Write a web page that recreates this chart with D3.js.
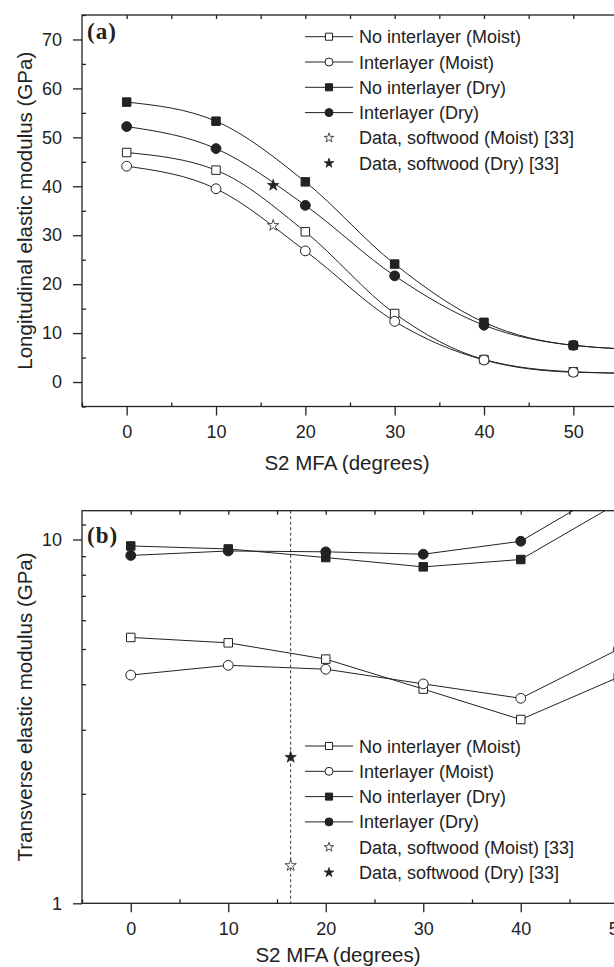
<!DOCTYPE html>
<html>
<head>
<meta charset="utf-8">
<script src="https://cdn.jsdelivr.net/npm/d3@7"></script>
<style>
  body { margin: 0; background: #fff; }
  svg { display: block; }
  text { font-family: "Liberation Sans", Arial, Helvetica, sans-serif; fill: #222; }
</style>
</head>
<body>
<div id="chart"></div>
<script>
// data
const mfaA = [0, 10, 20, 30, 40, 50, 60];
const longNoInterMoist = [46.9, 43.3, 30.7, 14.0, 4.6, 2.1, 1.7];
const longInterMoist   = [44.1, 39.5, 26.8, 12.4, 4.5, 2.0, 1.7];
const longNoInterDry   = [57.2, 53.3, 40.9, 24.1, 12.2, 7.5, 6.5];
const longInterDry     = [52.2, 47.7, 36.1, 21.7, 11.6, 7.5, 6.5];
const softwoodLong = [{mfa: 16.4, e: 32.0, kind: "moist"}, {mfa: 16.4, e: 40.2, kind: "dry"}];

const mfaB = [0, 10, 20, 30, 40, 50];
const transNoInterMoist = [5.38, 5.20, 4.69, 3.88, 3.20, 4.18];
const transInterMoist   = [4.24, 4.51, 4.40, 4.01, 3.66, 4.99];
const transNoInterDry   = [9.60, 9.42, 8.92, 8.41, 8.81, 12.6];
const transInterDry     = [9.04, 9.30, 9.25, 9.11, 9.89, 14.2];
const softwoodTrans = [{mfa: 16.4, e: 1.27, kind: "moist"}, {mfa: 16.4, e: 2.52, kind: "dry"}];
const softwoodMFA = 16.4;

const legendLabels = ["No interlayer (Moist)", "Interlayer (Moist)", "No interlayer (Dry)",
  "Interlayer (Dry)", "Data, softwood (Moist) [33]", "Data, softwood (Dry) [33]"];

const xTicks = [0, 10, 20, 30, 40, 50];
const yTicksA = [0, 10, 20, 30, 40, 50, 60, 70];
const yTicksB = [1, 10];

const ink = "#222";
const width = 614, height = 967;
const titleSize = "20.5px";

const svg = d3.select("#chart").append("svg")
  .attr("width", width)
  .attr("height", height);

const seriesStyle = [
  {shape: d3.symbolSquare, fill: "#fff"},
  {shape: d3.symbolCircle, fill: "#fff"},
  {shape: d3.symbolSquare, fill: ink},
  {shape: d3.symbolCircle, fill: ink}
];
function symSize(shape) { return shape === d3.symbolSquare ? 72 : 76; }

// scales
const xA = d3.scaleLinear().domain([-5, 55]).range([82, 618]);
const yA = d3.scaleLinear().domain([-5, 75]).range([406.5, 15]);
const xB = d3.scaleLinear().domain([-5, 55]).range([82, 667]);
const yB = d3.scaleLog().domain([1, 12]).range([903.3, 510.7]);

function styleAxis(g) {
  g.select(".domain").remove();
  g.selectAll(".tick line").attr("stroke", ink).attr("stroke-width", 1.3);
  g.selectAll(".tick text").style("font-size", "18px").attr("fill", ink)
    .style("font-family", "'Liberation Sans', Arial, sans-serif");
}

function drawPanel(opt) {
  const {x, yTop, yBot, tag, tagY, clipId} = opt;
  const g = svg.append("g");

  g.append("defs").append("clipPath").attr("id", clipId)
    .append("rect")
    .attr("x", x.range()[0]).attr("y", yTop)
    .attr("width", x.range()[1] - x.range()[0])
    .attr("height", yBot - yTop);

  // x axis
  g.append("g").attr("transform", "translate(0," + yBot + ")")
    .call(d3.axisBottom(x).tickValues(xTicks).tickSize(9).tickPadding(9.7).tickFormat(d3.format("d")))
    .call(styleAxis);
  g.append("g").attr("transform", "translate(0," + yBot + ")")
    .call(d3.axisBottom(x).tickValues(d3.range(-5, 56, 5).filter(d => d % 10 !== 0)).tickSize(-4).tickFormat(""))
    .call(styleAxis);
  g.append("g").attr("transform", "translate(0," + yTop + ")")
    .call(d3.axisTop(x).tickValues(d3.range(0, 56, 5)).tickSize(-4).tickFormat(""))
    .call(styleAxis);

  // frame
  g.append("rect")
    .attr("x", x.range()[0]).attr("y", yTop)
    .attr("width", x.range()[1] - x.range()[0])
    .attr("height", yBot - yTop)
    .attr("fill", "none").attr("stroke", ink).attr("stroke-width", 1.3);

  // panel tag
  g.append("text")
    .attr("x", 87).attr("y", tagY)
    .style("font-family", "'Liberation Serif', 'Times New Roman', serif")
    .style("font-weight", "bold").style("font-size", "23px")
    .style("letter-spacing", "1px")
    .attr("fill", "#111")
    .text(tag);

  return g;
}

function drawLegend(g, x0, y0) {
  const rowH = 25.3;
  legendLabels.forEach((lab, i) => {
    const cy = y0 + i * rowH;
    if (i < 4) {
      g.append("line").attr("x1", x0).attr("x2", x0 + 48).attr("y1", cy).attr("y2", cy)
        .attr("stroke", ink).attr("stroke-width", 1);
      const st = seriesStyle[i];
      g.append("path")
        .attr("transform", "translate(" + (x0 + 24) + "," + cy + ")")
        .attr("d", d3.symbol().type(st.shape).size(50)())
        .attr("fill", st.fill).attr("stroke", ink).attr("stroke-width", 1);
    } else {
      g.append("path")
        .attr("transform", "translate(" + (x0 + 24) + "," + cy + ")")
        .attr("d", d3.symbol().type(d3.symbolStar).size(28)())
        .attr("fill", i === 4 ? "#fff" : ink).attr("stroke", ink).attr("stroke-width", 0.8);
    }
    g.append("text")
      .attr("x", x0 + 54).attr("y", cy + 6.5)
      .style("font-size", "18px")
      .text(lab);
  });
}

// ---------- panel (a) ----------
const pa = drawPanel({x: xA, yTop: 15, yBot: 406.5, tag: "(a)", tagY: 39, clipId: "clipA"});

pa.append("g").attr("transform", "translate(82,0)")
  .call(d3.axisLeft(yA).tickValues(yTicksA).tickSize(9).tickPadding(11))
  .call(styleAxis);
pa.append("g").attr("transform", "translate(82,0)")
  .call(d3.axisLeft(yA).tickValues(d3.range(-5, 76, 10)).tickSize(-4).tickFormat(""))
  .call(styleAxis);

const seriesA = [longNoInterMoist, longInterMoist, longNoInterDry, longInterDry];
const lineA = d3.line().x((d, i) => xA(mfaA[i])).y(d => yA(d)).curve(d3.curveMonotoneX);
const plotA = pa.append("g").attr("clip-path", "url(#clipA)");

seriesA.forEach(s => {
  plotA.append("path").datum(s)
    .attr("d", lineA)
    .attr("fill", "none").attr("stroke", ink).attr("stroke-width", 1);
});
seriesA.forEach((s, k) => {
  const st = seriesStyle[k];
  plotA.selectAll(null).data(s).enter().append("path")
    .attr("transform", (d, i) => "translate(" + xA(mfaA[i]) + "," + yA(d) + ")")
    .attr("d", d3.symbol().type(st.shape).size(symSize(st.shape))())
    .attr("fill", st.fill).attr("stroke", ink).attr("stroke-width", 1);
});
plotA.selectAll(null).data(softwoodLong).enter().append("path")
  .attr("transform", d => "translate(" + xA(d.mfa) + "," + yA(d.e) + ")")
  .attr("d", d3.symbol().type(d3.symbolStar).size(40)())
  .attr("fill", d => d.kind === "dry" ? ink : "#fff")
  .attr("stroke", ink).attr("stroke-width", 0.8);

drawLegend(pa, 305, 36.7);

pa.append("text")
  .attr("transform", "translate(32," + ((15 + 406.5) / 2) + ") rotate(-90)")
  .attr("text-anchor", "middle")
  .style("font-size", titleSize)
  .text("Longitudinal elastic modulus (GPa)");

pa.append("text")
  .attr("x", 347).attr("y", 470)
  .attr("text-anchor", "middle")
  .style("font-size", titleSize)
  .text("S2 MFA (degrees)");

// ---------- panel (b) ----------
const pb = drawPanel({x: xB, yTop: 510.7, yBot: 903.3, tag: "(b)", tagY: 543, clipId: "clipB"});

pb.append("g").attr("transform", "translate(82,0)")
  .call(d3.axisLeft(yB).tickValues(yTicksB).tickSize(9).tickPadding(11).tickFormat(d3.format("d")))
  .call(styleAxis);
pb.append("g").attr("transform", "translate(82,0)")
  .call(d3.axisLeft(yB).tickValues([2, 3, 4, 5, 6, 7, 8, 9, 11]).tickSize(-4).tickFormat(""))
  .call(styleAxis);

const plotB = pb.append("g").attr("clip-path", "url(#clipB)");

plotB.append("line")
  .attr("x1", xB(softwoodMFA)).attr("x2", xB(softwoodMFA))
  .attr("y1", 510.7).attr("y2", 903.3)
  .attr("stroke", ink).attr("stroke-width", 0.9).attr("stroke-dasharray", "3,2.5");

const seriesB = [transNoInterMoist, transInterMoist, transNoInterDry, transInterDry];
const lineB = d3.line().x((d, i) => xB(mfaB[i])).y(d => yB(d));

seriesB.forEach(s => {
  plotB.append("path").datum(s)
    .attr("d", lineB)
    .attr("fill", "none").attr("stroke", ink).attr("stroke-width", 1);
});
seriesB.forEach((s, k) => {
  const st = seriesStyle[k];
  plotB.selectAll(null).data(s).enter().append("path")
    .attr("transform", (d, i) => "translate(" + xB(mfaB[i]) + "," + yB(d) + ")")
    .attr("d", d3.symbol().type(st.shape).size(symSize(st.shape))())
    .attr("fill", st.fill).attr("stroke", ink).attr("stroke-width", 1);
});
plotB.selectAll(null).data(softwoodTrans).enter().append("path")
  .attr("transform", d => "translate(" + xB(d.mfa) + "," + yB(d.e) + ")")
  .attr("d", d3.symbol().type(d3.symbolStar).size(40)())
  .attr("fill", d => d.kind === "dry" ? ink : "#fff")
  .attr("stroke", ink).attr("stroke-width", 0.8);

drawLegend(pb, 305, 746);

pb.append("text")
  .attr("transform", "translate(32," + ((510.7 + 903.3) / 2) + ") rotate(-90)")
  .attr("text-anchor", "middle")
  .style("font-size", titleSize)
  .text("Transverse elastic modulus (GPa)");

pb.append("text")
  .attr("x", 338).attr("y", 962)
  .attr("text-anchor", "middle")
  .style("font-size", titleSize)
  .text("S2 MFA (degrees)");
</script>
</body>
</html>
